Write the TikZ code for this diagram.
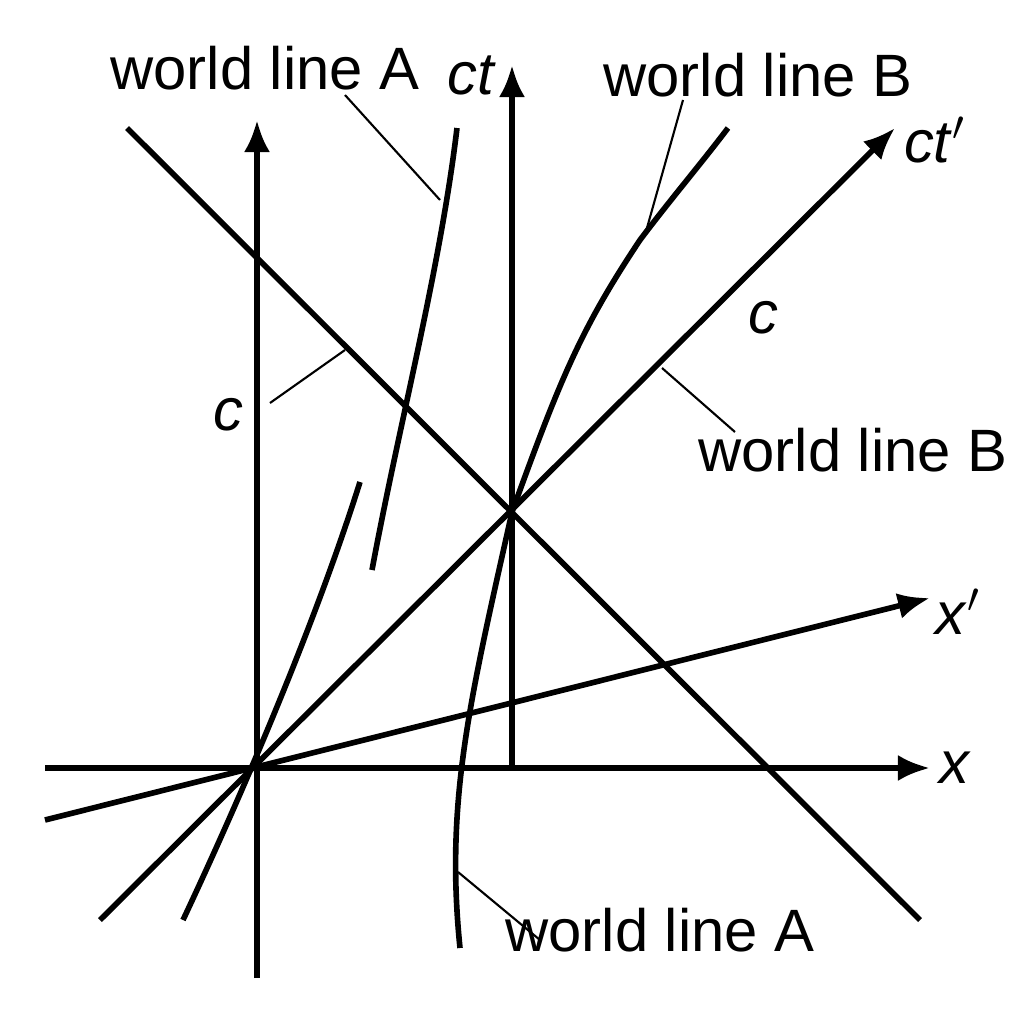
\documentclass[tikz,border=0pt]{standalone}
\usepackage{fontspec}
\setmainfont{Liberation Sans}
\usetikzlibrary{arrows.meta, positioning, calc}

\begin{document}
\begin{tikzpicture}[x=0.01cm, y=-0.01cm, font=\fontsize{17}{20}\selectfont,
    axis/.style={line width=1.6pt, -{Latex[length=0.32cm, width=0.26cm]}},
    wline/.style={line width=1.6pt},
    leader/.style={line width=0.6pt},
    lbl/.style={inner sep=1pt}]
    \useasboundingbox (0,0) rectangle (1024,1024);
    % axes
    \coordinate (O) at (257,768);
    \coordinate (E) at (512,512);
    \draw[axis] (45,768) coordinate (xs) -- (930,768) coordinate (xe);
    \node[lbl] (xlab) at (955,768) {\textit{x}};
    \draw[axis] (257,978) -- (257,120) coordinate (ce);
    \draw[axis] (512,768) -- (512,65) coordinate (cte);
    \node[lbl] (ctlab) at (472,75) {\textit{ct}};
    \draw[axis] (100,920) -- (895,128) coordinate (ctpe);
    \node[lbl] (ctplab) at (935,140) {\textit{ct}$'$};
    \draw[axis] (45,820) -- (930,598) coordinate (xpe);
    \node[lbl] (xplab) at (958,612) {\textit{x}$'$};
    % light line
    \draw[wline] (127,128) -- (920,920);
    % world lines
    \draw[wline] (183,920) .. controls (230,820) and (310,640) .. (360,482);
    \draw[wline] (372,570) .. controls (400,420) and (440,270) .. (457,128);
    \draw[wline] (460,948) .. controls (445,800) and (470,700) .. (E)
        .. controls (560,380) and (580,330) .. (640,240)
        .. controls (670,200) and (700,165) .. (728,128);
    % labels with leaders
    \node[lbl] (wlA1) at (265,68) {world line A};
    \draw[leader] (345,95) -- (440,200);
    \node[lbl] (wlB1) at (758,75) {world line B};
    \draw[leader] (683,100) -- (645,235);
    \node[lbl] (cR) at (763,318) {\textit{c}};
    \node[lbl] (wlB2) at (853,450) {world line B};
    \draw[leader] (735,432) -- (662,368);
    \node[lbl] (cL) at (228,415) {\textit{c}};
    \draw[leader] (270,403) -- (345,350);
    \node[lbl] (wlA2) at (660,930) {world line A};
    \draw[leader] (540,940) -- (458,872);
\end{tikzpicture}
\end{document}
